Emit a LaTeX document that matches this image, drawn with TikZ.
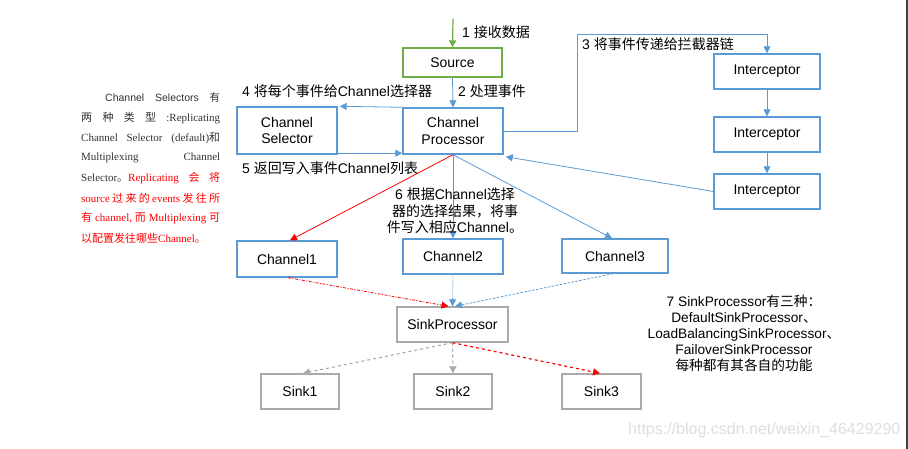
\documentclass[tikz,border=0pt]{standalone}
\usepackage{fontspec}
\setmainfont{Liberation Sans}
\newfontfamily\cjk{Noto Sans CJK SC}
\newfontfamily\serifLat{Liberation Serif}
\usetikzlibrary{arrows.meta}
\newcommand\zh[1]{{\cjk #1}}
\definecolor{bblue}{RGB}{91,155,213}
\definecolor{bgreen}{RGB}{112,173,71}
\definecolor{bgray}{RGB}{170,170,170}
\definecolor{bred}{RGB}{255,0,0}
\definecolor{ltxt}{RGB}{51,51,51}
\definecolor{dbar}{RGB}{60,63,68}
\newcommand\rd[1]{{\color{bred}#1}}
\begin{document}
\begin{tikzpicture}[x=1pt,y=-1pt,
  lbl/.style={font=\fontsize{14}{16.5}\selectfont, inner sep=0pt},
  box/.style={draw=bblue, line width=1.4pt, fill=white, inner sep=0pt, align=center,
              font=\fontsize{14}{16.5}\selectfont},
  gbox/.style={box, draw=bgreen},
  sbox/.style={box, draw=bgray},
  arr/.style={draw=bblue, line width=0.8pt, -{Triangle[length=7pt,width=7pt]}},
  garr/.style={arr, draw=bgreen, line width=1.2pt},
  rarr/.style={arr, draw=bred},
  grarr/.style={arr, draw=bgray, dashed, line width=1.1pt},
  side/.style={anchor=west, inner sep=0pt, font=\fontsize{11}{13}\selectfont}
]
\useasboundingbox (0,0) rectangle (908,449);
\fill[white] (0,0) rectangle (908,449);
\fill[dbar] (905.5,0) rectangle (908,449);

% nodes
\node[gbox, minimum width=99pt, minimum height=29pt] (src) at (452.5,62.5) {Source};
\node[box, minimum width=100pt, minimum height=46pt] (cp) at (453,131) {Channel\\Processor};
\node[box, minimum width=100pt, minimum height=47pt] (cs) at (287,130.5) {Channel\\Selector};
\node[box, minimum width=106pt, minimum height=35pt] (i1) at (767,71.5) {Interceptor};
\node[box, minimum width=106pt, minimum height=35pt] (i2) at (767,134.5) {Interceptor};
\node[box, minimum width=106pt, minimum height=35pt] (i3) at (767,191.5) {Interceptor};
\node[box, minimum width=100pt, minimum height=36pt] (c1) at (287,259) {Channel1};
\node[box, minimum width=100pt, minimum height=35pt] (c2) at (453,256.5) {Channel2};
\node[box, minimum width=106pt, minimum height=34pt] (c3) at (615,256) {Channel3};
\node[sbox, minimum width=111pt, minimum height=35pt] (sp) at (452.5,324.5) {SinkProcessor};
\node[sbox, minimum width=78pt, minimum height=35pt] (k1) at (300,391.5) {Sink1};
\node[sbox, minimum width=78pt, minimum height=35pt] (k2) at (453,391.5) {Sink2};
\node[sbox, minimum width=79pt, minimum height=35pt] (k3) at (601.5,391.5) {Sink3};

% connectors
\coordinate (in) at (453,19);
\draw[garr] (in) -- (src.north);
\draw[arr] (src.south) -- (cp.north);
\draw[arr] (cp.north west) -- ([xshift=2pt]cs.north east);
\draw[arr] ([yshift=1.5pt]cs.south east) -- ([yshift=1.5pt]cp.south west);
\coordinate (bend) at (577,34);
\draw[arr] (cp.east) -| (bend) -| (i1.north);
\draw[arr] (i1.south) -- (i2.north);
\draw[arr] (i2.south) -- (i3.north);
\draw[arr] (i3.west) -- ([xshift=2pt,yshift=-2pt]cp.south east);
\draw[rarr] (cp.south) -- ([xshift=3pt]c1.north);
\draw[arr] (cp.south) -- (c2.north);
\draw[arr] (cp.south) -- ([xshift=-3pt]c3.north);
\draw[rarr, dash pattern=on 3pt off 1.5pt on 1pt off 1.5pt] ([xshift=1pt]c1.south) -- ([xshift=-4pt]sp.north);
\draw[arr, densely dotted] (c2.south) -- (sp.north);
\draw[arr, dash pattern=on 2.5pt off 1.5pt] ([xshift=-2pt]c3.south) -- ([xshift=2.5pt]sp.north);
\draw[grarr] (sp.south) -- ([xshift=3pt]k1.north);
\draw[grarr] (sp.south) -- (k2.north);
\draw[grarr, draw=bred, line width=1.2pt] (sp.south) -- ([xshift=-1.5pt]k3.north);

% labels
\node[lbl, anchor=west] (l1) at (462,32) {1 \zh{接收数据}};
\node[lbl, anchor=west] (l2) at (458,91) {2 \zh{处理事件}};
\node[lbl, anchor=west] (l4) at (242,91) {4 \zh{将每个事件给}Channel\zh{选择器}};
\node[lbl, anchor=west] (l5) at (242,168) {5 \zh{返回写入事件}Channel\zh{列表}};
\node[lbl, anchor=west] (l3) at (582,44) {3 \zh{将事件传递给拦截器链}};
\node[lbl, align=center, font=\fontsize{14}{16.5}\selectfont] (l6) at (455,211) {6 \zh{根据}Channel\zh{选择}\\\zh{器的选择结果，将事}\\\zh{件写入相应}Channel\zh{。}};
\node[lbl, align=center, font=\fontsize{13.7}{16}\selectfont] (l7) at (744,333) {7 SinkProcessor\zh{有三种：}\\DefaultSinkProcessor\zh{、}\\LoadBalancingSinkProcessor\zh{、}\\FailoverSinkProcessor\\\zh{每种都有其各自的功能}};

% side note
\begin{scope}[every node/.style={side}]
\node (s1) at (105,98) {\hbox to 115pt{\color{ltxt}\fontsize{10.5}{12}\selectfont Channel\hfil Selectors\hfil \zh{有}}};
\node (s2) at (81,118) {\hbox to 139pt{\color{ltxt}\serifLat\zh{两}\hfil\zh{种}\hfil\zh{类}\hfil\zh{型}\hfil :Replicating}};
\node (s3) at (81,138) {\hbox to 139pt{\color{ltxt}\serifLat Channel\hfil Selector\hfil (default)\zh{和}}};
\node (s4) at (81,158) {\hbox to 139pt{\color{ltxt}\serifLat Multiplexing\hfil Channel}};
\node (s5) at (81,178) {\hbox to 139pt{\color{ltxt}\serifLat Selector\zh{。}\rd{Replicating\hfil\zh{会}\hfil\zh{将}}}};
\node (s6) at (81,198) {\hbox to 139pt{\color{bred}\serifLat source\hfil\zh{过}\hfil\zh{来}\hfil\zh{的}\hfil events\hfil\zh{发}\hfil\zh{往}\hfil\zh{所}}};
\node (s7) at (81,218) {\hbox to 139pt{\color{bred}\serifLat\zh{有}\hfil channel,\hfil\zh{而}\hfil Multiplexing\hfil\zh{可}}};
\node (s8) at (81,238) {\color{bred}\serifLat\zh{以配置发往哪些}Channel\zh{。}};
\end{scope}

% watermark
\node[anchor=west, inner sep=0pt, text=black!13, font=\fontsize{16}{18}\selectfont] (wm) at (628,430) {https://blog.csdn.net/weixin\_46429290};
\end{tikzpicture}
\end{document}
